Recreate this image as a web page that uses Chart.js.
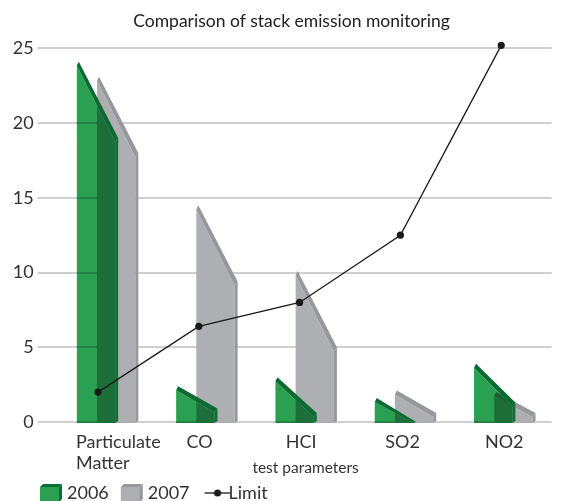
<!DOCTYPE html>
<html><head><meta charset="utf-8">
<style>html,body{margin:0;padding:0;background:#fff}#w{width:571px;height:501px}canvas{display:block}</style>
<script src="https://cdn.jsdelivr.net/npm/chart.js@4"></script>
</head><body><div id="w"><canvas id="c" width="571" height="501"></canvas></div>
<script>
const categories = [['Particulate','Matter'],'CO','HCI','SO2','NO2'];
const rise2006 = [24.1, 2.4, 3, 1.6, 3.9];
const fall2006 = [19, 0.9, 0.6, 0, 1.3];
const rise2007 = [23.1, 14.5, 10.1, 2.1, 2];
const fall2007 = [18, 9.4, 5, 0.6, 0.6];
const limit = [2, 6.4, 8, 12.5, 25.2];
const yTicks = [0,5,10,15,20,25];
const COL = {
  g06:{face:'#2ba052',edge:'#0a6b33',side:'#0c6f36'},
  g07:{face:'#aeafb3',edge:'#97989c',side:'#97989c'}
};
function wedge(ctx,el,i,hi,lo,y,c,multiply){
  const l=el.x-el.width/2-1-1.5*i, r=l+el.width*2+1, b=y.getPixelForValue(0)+1;
  const t0=y.getPixelForValue(hi), t1=Math.min(y.getPixelForValue(lo),b-1);
  const sw=3, band=4;
  ctx.save();
  if(multiply) ctx.globalCompositeOperation='multiply';
  ctx.fillStyle=c.face;
  ctx.beginPath();ctx.moveTo(l,b);ctx.lineTo(l,t0+band);ctx.lineTo(r-sw,Math.min(t1+band,b));ctx.lineTo(r-sw,b);ctx.closePath();ctx.fill();
  ctx.restore();
  ctx.save();
  ctx.fillStyle=c.edge;
  ctx.beginPath();ctx.moveTo(l,t0+band);ctx.lineTo(l+2,t0);ctx.lineTo(r,Math.min(t1,b));ctx.lineTo(r-sw,Math.min(t1+band,b));ctx.closePath();ctx.fill();
  if(t1+band<b){
    ctx.fillStyle=c.side;
    ctx.beginPath();ctx.moveTo(r-sw,t1+band);ctx.lineTo(r,t1);ctx.lineTo(r,b-2);ctx.lineTo(r-sw,b);ctx.closePath();ctx.fill();
  }
  ctx.restore();
}
const wedges={id:'wedges',
  beforeDraw(ch){const x=ch.ctx;x.save();x.fillStyle='#fff';x.fillRect(0,0,ch.width,ch.height);x.restore();},
  beforeDatasetsDraw(ch){
    const y=ch.scales.y,ctx=ch.ctx;
    ch.getDatasetMeta(1).data.forEach((el,i)=>wedge(ctx,el,i,rise2007[i],fall2007[i],y,COL.g07,false));
    ch.getDatasetMeta(0).data.forEach((el,i)=>wedge(ctx,el,i,rise2006[i],fall2006[i],y,COL.g06,true));
  },
  afterLayout(ch){
    ch.legend.left=28;
    ch.legend.top+=11;
    ch.titleBlock.left+=19.4;
    const sx=ch.scales.x, items=sx.getLabelItems(ch.chartArea);
    items.forEach((it,i)=>{
      if(Array.isArray(it.label)){it.options.textAlign='left';it.options.translation[0]=76;}
      else it.options.translation[0]+=i*0.75;
    });
    sx._computeLabelArea=()=>undefined;
    if(!sx._shifted){
      const od=sx.drawTitle.bind(sx);
      sx.drawTitle=function(){const c=sx.ctx;c.save();c.translate(6,19);od();c.restore();};
      sx._shifted=true;
    }
  }
};
function swatch(c){
  const k=document.createElement('canvas');k.width=28;k.height=18;const x=k.getContext('2d');
  x.fillStyle=c.face;x.fillRect(5,3,19,15);
  x.fillStyle=c.edge;x.beginPath();x.moveTo(5,3);x.lineTo(8,0);x.lineTo(27,0);x.lineTo(24,3);x.closePath();x.fill();
  x.fillStyle=c.side;x.beginPath();x.moveTo(24,3);x.lineTo(27,0);x.lineTo(27,15);x.lineTo(24,18);x.closePath();x.fill();
  return k;
}
function lineKey(){
  const k=document.createElement('canvas');k.width=42;k.height=10;const x=k.getContext('2d');
  x.strokeStyle='#1a1a1a';x.lineWidth=1.3;x.beginPath();x.moveTo(15,5);x.lineTo(41,5);x.stroke();
  x.fillStyle='#1a1a1a';x.beginPath();x.arc(28,5,3.6,0,7);x.fill();
  return k;
}
new Chart(document.getElementById('c'),{
  type:'bar',
  data:{labels:categories,datasets:[
    {label:'2006',data:rise2006,backgroundColor:'rgba(0,0,0,0)',categoryPercentage:0.4,barPercentage:1,order:2},
    {label:'2007',data:rise2007,backgroundColor:'rgba(0,0,0,0)',categoryPercentage:0.4,barPercentage:1,order:2},
    {type:'line',label:'Limit',data:limit,clip:false,borderColor:'#1a1a1a',backgroundColor:'#1a1a1a',borderWidth:1.3,pointRadius:3.6,pointBackgroundColor:'#1a1a1a',pointBorderWidth:0,tension:0,order:1}
  ]},
  plugins:[wedges],
  options:{
    responsive:false,animation:false,
    layout:{padding:{left:12,right:19.4,top:0,bottom:0}},
    font:{family:'Lato'},
    scales:{
      x:{grid:{display:false},border:{display:false},
        afterFit(s){s.height=39;},
        ticks:{font:{family:'Lato',size:18},color:'#333',padding:1,maxRotation:0,autoSkip:false},
        title:{display:true,text:'test parameters',font:{family:'Lato',size:15.5},color:'#333',padding:{top:0,bottom:3}}},
      y:{min:0,max:25,position:'left',
        afterFit(s){s.width=35.6;},
        afterBuildTicks(s){s.ticks=yTicks.map(v=>({value:v}));},
        border:{display:false},
        grid:{color:'#cfcfcf',lineWidth:2,tickLength:10},
        ticks:{font:{family:'Lato',size:18},color:'#333',padding:4}}
    },
    plugins:{
      title:{display:true,text:'Comparison of stack emission monitoring',font:{family:'Lato',size:17.5,weight:'normal'},color:'#222',padding:{top:11,bottom:16.4}},
      tooltip:{enabled:false},
      legend:{position:'bottom',align:'start',
        labels:{usePointStyle:true,pointStyleWidth:18,boxHeight:18,padding:12,font:{family:'Lato',size:18},color:'#333',
          generateLabels(){
            return [
              {text:'2006',pointStyle:swatch(COL.g06),fontColor:'#333',datasetIndex:0,hidden:false,lineWidth:0},
              {text:'2007',pointStyle:swatch(COL.g07),fontColor:'#333',datasetIndex:1,hidden:false,lineWidth:0},
              {text:'Limit',pointStyle:lineKey(),fontColor:'#333',datasetIndex:2,hidden:false,lineWidth:0}
            ];
          }}}
    }
  }
});
</script></body></html>
